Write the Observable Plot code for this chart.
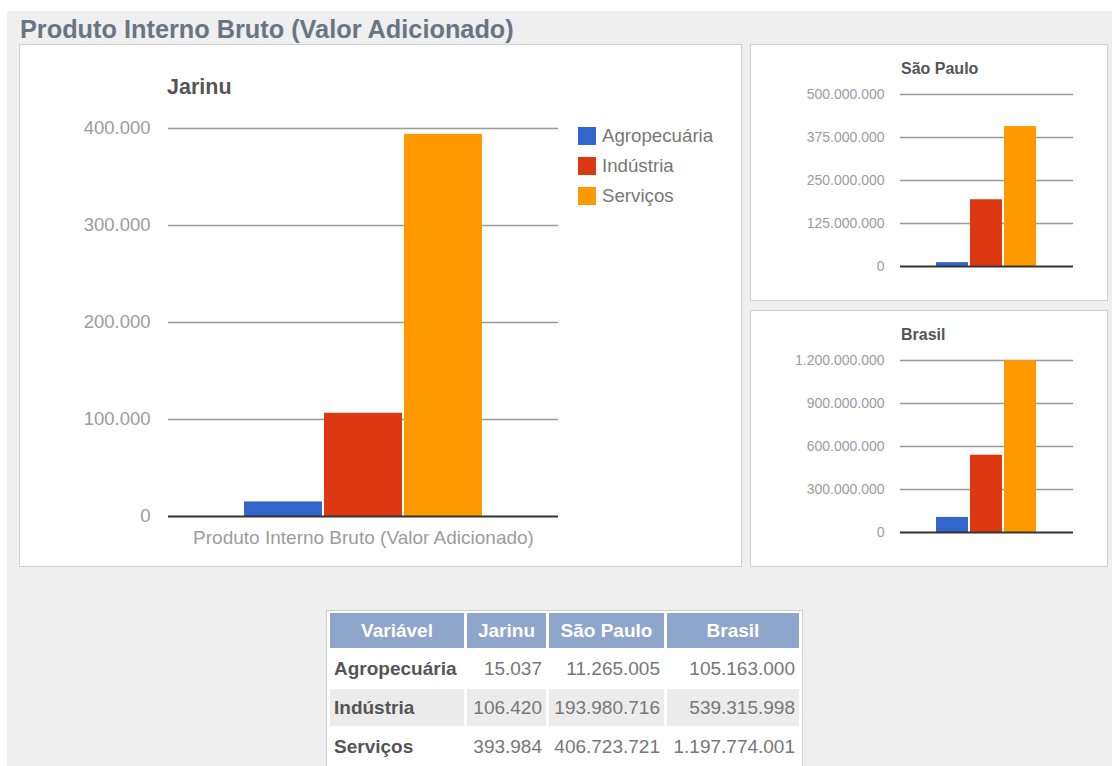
<!DOCTYPE html>
<html><head><meta charset="utf-8">
<script src="https://cdn.jsdelivr.net/npm/d3@7"></script>
<script src="https://cdn.jsdelivr.net/npm/@observablehq/plot@0.6"></script>
<style>
html,body{margin:0;padding:0;}
body{width:1112px;height:766px;background:#fff;font-family:"Liberation Sans",Arial,sans-serif;position:relative;overflow:hidden;}
.bg{position:absolute;left:7px;top:11px;right:0;bottom:0;background:#efefef;}
.abs{position:absolute;}
.titulo{left:20px;top:17px;font-size:25.3px;line-height:25px;font-weight:bold;color:#6a7583;white-space:nowrap;}
.painel{background:#fff;border:1px solid #cfcfcf;box-sizing:border-box;}
.tgraf{font-weight:bold;color:#555;white-space:nowrap;}
table{border-collapse:separate;border-spacing:3px 2px;background:#fff;border:1px solid #cfcfcf;table-layout:fixed;font-size:19px;}
th{background:#8ea5cc;color:#fff;font-weight:bold;height:35px;padding:0 4px;text-align:center;}
td{height:37px;padding:0 4px;color:#777;text-align:right;white-space:nowrap;}
td.rot{text-align:left;font-weight:bold;color:#555;}
tr.par td{background:#ececec;}
#leg svg{margin-right:6px !important;}
</style>
</head><body>
<div class="bg"></div>
<div class="abs titulo">Produto Interno Bruto (Valor Adicionado)</div>
<div class="abs painel" style="left:19px;top:44px;width:723px;height:523px;"></div>
<div class="abs painel" style="left:750px;top:44px;width:358px;height:257px;"></div>
<div class="abs painel" style="left:750px;top:310px;width:358px;height:257px;"></div>
<div id="main" class="abs" style="left:19px;top:44px;"></div>
<div id="sp" class="abs" style="left:750px;top:44px;"></div>
<div id="br" class="abs" style="left:750px;top:310px;"></div>
<div id="leg" class="abs" style="left:578px;top:121px;"></div>
<div class="abs tgraf" id="t1" style="left:167px;top:77px;font-size:21.5px;line-height:21.5px;"></div>
<div class="abs tgraf" id="t2" style="left:901px;top:61px;font-size:16px;line-height:16px;"></div>
<div class="abs tgraf" id="t3" style="left:901px;top:327px;font-size:16px;line-height:16px;"></div>
<div id="tab" class="abs" style="left:326px;top:610px;"></div>
<script>
const categorias = ["Agropecuária", "Indústria", "Serviços"];
const cores = ["#3366cc", "#dc3912", "#ff9900"];
const locais = ["Jarinu", "São Paulo", "Brasil"];
const jarinu = [15037, 106420, 393984];
const saoPaulo = [11265005, 193980716, 406723721];
const brasil = [105163000, 539315998, 1197774001];
const ticksJarinu = [0, 100000, 200000, 300000, 400000];
const ticksSP = [0, 125000000, 250000000, 375000000, 500000000];
const ticksBR = [0, 300000000, 600000000, 900000000, 1200000000];
const rotuloX = "Produto Interno Bruto (Valor Adicionado)";

const fmt = d3.formatLocale({decimal: ",", thousands: ".", grouping: [3], currency: ["R$", ""]}).format(",d");

function grafico(o) {
  const dados = categorias.map((c, i) => ({categoria: c, valor: o.valores[i]}));
  return Plot.plot({
    width: o.width, height: o.height,
    marginLeft: o.marginLeft, marginRight: o.marginRight, marginTop: o.marginTop, marginBottom: o.marginBottom,
    style: {fontFamily: "'Liberation Sans', Arial, sans-serif", fontSize: o.fontSize + "px", color: "#9c9c9c", background: "transparent", overflow: "visible"},
    x: {domain: categorias, paddingInner: o.paddingInner, paddingOuter: o.paddingOuter, axis: null},
    y: {domain: [0, o.ticks[o.ticks.length - 1]], axis: null},
    color: {domain: categorias, range: cores},
    marks: [
      Plot.ruleY(o.ticks.slice(1), {stroke: "#999", strokeWidth: 1.5}),
      Plot.axisY({ticks: o.ticks, tickSize: 0, tickPadding: o.tickPadding, tickFormat: fmt, label: null}),
      Plot.barY(dados, {x: "categoria", y: "valor", fill: "categoria"}),
      Plot.ruleY([0], {stroke: "#333", strokeWidth: 2}),
      o.xLabel ? Plot.text([o.xLabel], {frameAnchor: "bottom", dy: 27, fill: "#9c9c9c", fontSize: 19}) : null
    ]
  });
}

document.getElementById("main").append(grafico({
  valores: jarinu, ticks: ticksJarinu, width: 560, height: 522,
  marginLeft: 149, marginRight: 21, marginTop: 84, marginBottom: 50,
  fontSize: 18.5, tickPadding: 18, paddingInner: 0.025, paddingOuter: 0.95, xLabel: rotuloX
}));
document.getElementById("sp").append(grafico({
  valores: saoPaulo, ticks: ticksSP, width: 357, height: 256,
  marginLeft: 150, marginRight: 34, marginTop: 50, marginBottom: 34,
  fontSize: 14, tickPadding: 16, paddingInner: 0.057, paddingOuter: 1.0
}));
document.getElementById("br").append(grafico({
  valores: brasil, ticks: ticksBR, width: 357, height: 256,
  marginLeft: 150, marginRight: 34, marginTop: 50, marginBottom: 34,
  fontSize: 14, tickPadding: 16, paddingInner: 0.057, paddingOuter: 1.0
}));
document.getElementById("t1").textContent = locais[0];
document.getElementById("t2").textContent = locais[1];
document.getElementById("t3").textContent = locais[2];

document.getElementById("leg").append(Plot.legend({
  color: {type: "ordinal", domain: categorias, range: cores},
  legend: "swatches", columns: 1, swatchSize: 18,
  style: {fontFamily: "'Liberation Sans', Arial, sans-serif", fontSize: "18.7px", color: "#777", lineHeight: "29px", background: "transparent"}
}));

// tabela
const series = [jarinu, saoPaulo, brasil];
const larg = [134, 79, 115, 132];
let html = "<table><colgroup>" + larg.map(w => `<col style="width:${w}px">`).join("") + "</colgroup><tr><th>Variável</th>" +
  locais.map(l => `<th>${l}</th>`).join("") + "</tr>";
categorias.forEach((c, i) => {
  html += `<tr class="${i % 2 ? "par" : ""}"><td class="rot">${c}</td>` + series.map(s => `<td>${fmt(s[i])}</td>`).join("") + "</tr>";
});
html += "</table>";
document.getElementById("tab").innerHTML = html;
</script>
</body></html>
